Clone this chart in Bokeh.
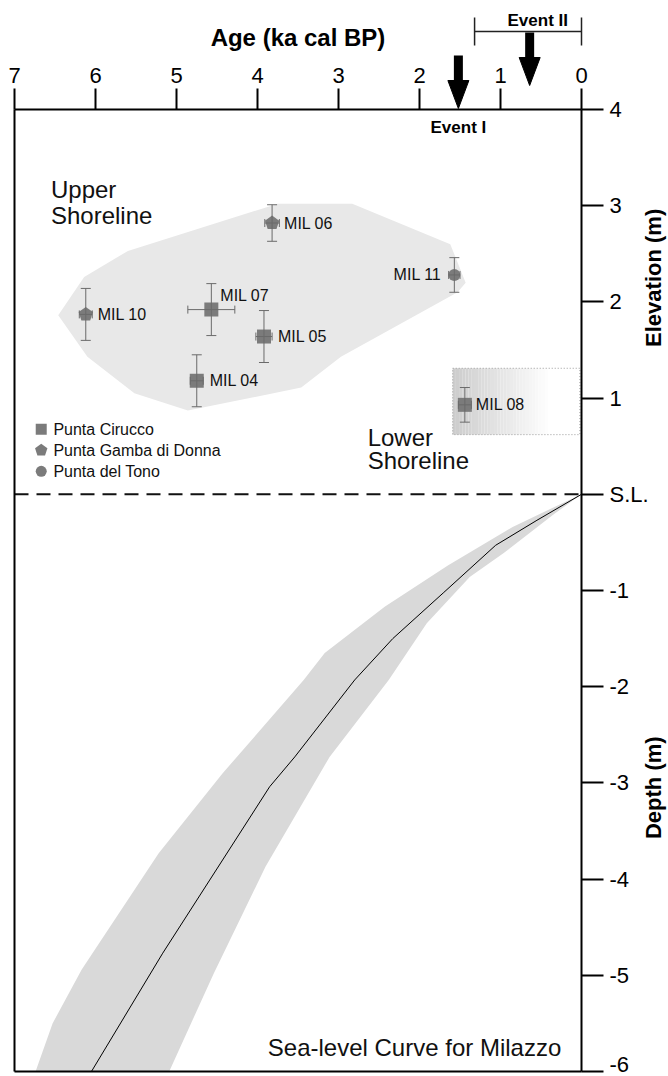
import numpy as np
from bokeh.plotting import figure
from bokeh.models import (Range1d, FixedTicker, ColumnDataSource, Whisker, TeeHead, LinearAxis)
from bokeh.core.properties import value
from bokeh.embed import file_html
from bokeh.resources import INLINE

# ---------------- data ----------------
sample_ids = ["MIL 04", "MIL 05", "MIL 06", "MIL 07", "MIL 08", "MIL 10", "MIL 11"]
sample_site = ["Punta Cirucco", "Punta Cirucco", "Punta Gamba di Donna", "Punta Cirucco",
               "Punta Cirucco", "Punta Gamba di Donna", "Punta del Tono"]
sample_age = [4.75, 3.92, 3.82, 4.57, 1.44, 6.12, 1.57]          # ka cal BP
sample_age_err = [0.08, 0.10, 0.09, 0.29, 0.08, 0.08, 0.07]
sample_elev = [1.18, 1.64, 2.82, 1.92, 0.93, 1.87, 2.28]          # m
sample_elev_err = [0.27, 0.27, 0.19, 0.27, 0.18, 0.27, 0.18]

site_names = ["Punta Cirucco", "Punta Gamba di Donna", "Punta del Tono"]

upper_shore_age = [6.46, 6.14, 5.60, 3.75, 2.83, 1.62, 1.43, 1.53, 2.97, 3.46, 4.86, 5.52, 6.10]
upper_shore_elev = [1.86, 2.26, 2.53, 3.02, 3.02, 2.60, 2.20, 2.10, 1.43, 1.11, 0.87, 1.05, 1.43]

lower_box_age = [1.59, 0.02]
lower_box_elev = [0.62, 1.31]

curve_age = [0.0, 0.55, 1.06, 1.70, 2.33, 2.80, 3.54, 3.85, 4.59, 5.17, 6.05]
curve_elev = [0.0, -0.27, -0.53, -1.02, -1.50, -1.93, -2.73, -3.04, -4.01, -4.77, -6.0]

band_upper_age = [0.0, 0.38, 0.85, 1.65, 2.43, 3.17, 3.43, 4.43, 5.22, 6.17, 6.53, 6.74]
band_upper_elev = [0.0, -0.15, -0.34, -0.74, -1.17, -1.65, -1.93, -2.90, -3.73, -4.94, -5.50, -6.0]
band_lower_age = [0.0, 0.33, 0.96, 1.38, 1.91, 2.38, 3.11, 3.90, 4.54, 5.09]
band_lower_elev = [0.0, -0.20, -0.61, -0.86, -1.34, -1.93, -2.73, -3.87, -4.98, -6.0]

age_ticks = [0, 1, 2, 3, 4, 5, 6, 7]
elev_ticks = [4, 3, 2, 1, 0, -1, -2, -3, -4, -5, -6]
elev_tick_labels = ["4", "3", "2", "1", "S.L.", "-1", "-2", "-3", "-4", "-5", "-6"]

event_names = ["Event I", "Event II"]
event_age = [1.52, 0.64]
event2_span = [1.32, 0.0]

# ---------------- layout / style ----------------
W, H = 668, 1076
FRAME_L, FRAME_R, FRAME_T, FRAME_B = 14, 581, 109, 1071   # pixel box of the age/elevation area
AGE_MAX, AGE_MIN = max(age_ticks), min(age_ticks)
EL_MAX, EL_MIN = max(elev_ticks), min(elev_ticks)
XS = (FRAME_R - FRAME_L) / (AGE_MAX - AGE_MIN)    # px per ka
YS = (FRAME_B - FRAME_T) / (EL_MAX - EL_MIN)      # px per m

FONT = "Liberation Sans"
MARK = "#7b7b7b"
ERR = "#6a6a6a"
TXT = "#111111"
label_dx = [13, 14, 12, 9, 11, 12, -13]
label_dy = [0, 0, 0, -14, 0, 0, 0]
label_align = ["left", "left", "left", "left", "left", "left", "right"]
marker_of_site = {"Punta Cirucco": "square", "Punta Gamba di Donna": "pentagon", "Punta del Tono": "circle"}

x_range = Range1d(AGE_MAX + FRAME_L / XS, AGE_MIN - (W - FRAME_R) / XS)
y_range = Range1d(EL_MIN - (H - FRAME_B) / YS, EL_MAX + FRAME_T / YS)

p = figure(width=W, height=H, x_range=x_range, y_range=y_range,
           x_axis_location=None, y_axis_location=None,
           output_backend="svg", toolbar_location=None,
           min_border_left=0, min_border_right=0, min_border_top=0, min_border_bottom=0)
p.grid.visible = False
p.outline_line_color = None
p.background_fill_color = "white"
p.border_fill_color = "white"

# top age axis at elevation 4
xa = LinearAxis(fixed_location=EL_MAX, bounds=(AGE_MIN, AGE_MAX))
xa.ticker = FixedTicker(ticks=age_ticks)
xa.major_tick_in = 0
xa.major_tick_out = 21
xa.minor_tick_in = 0
xa.minor_tick_out = 0
xa.axis_line_width = 2
xa.major_tick_line_width = 2
xa.major_label_standoff = 6
xa.major_label_text_font = FONT
xa.major_label_text_font_size = "22px"
xa.major_label_text_color = "black"
xa.axis_label = "Age (ka cal BP)"
xa.axis_label_text_font = FONT
xa.axis_label_text_font_style = "bold"
xa.axis_label_text_font_size = "24px"
xa.axis_label_text_color = "black"
xa.axis_label_standoff = 14
p.add_layout(xa, "above")

# right elevation axis at age 0
ya = LinearAxis(fixed_location=AGE_MIN, bounds=(EL_MIN, EL_MAX))
ya.ticker = FixedTicker(ticks=elev_ticks)
ya.major_label_overrides = {t: s for t, s in zip(elev_ticks, elev_tick_labels)}
ya.major_tick_in = 0
ya.major_tick_out = 22
ya.minor_tick_in = 0
ya.minor_tick_out = 0
ya.axis_line_width = 2
ya.major_tick_line_width = 2
ya.major_label_standoff = 6
ya.major_label_text_font = FONT
ya.major_label_text_font_size = "22px"
ya.major_label_text_color = "black"
p.add_layout(ya, "right")

# left and bottom frame lines
for loc, side, bnds in [(AGE_MAX, "left", (EL_MIN, EL_MAX)), (EL_MIN, "below", (AGE_MIN, AGE_MAX))]:
    ax = LinearAxis(fixed_location=loc, bounds=bnds, ticker=FixedTicker(ticks=[]))
    ax.axis_line_width = 2
    ax.major_tick_in = 0
    ax.major_tick_out = 0
    ax.minor_tick_in = 0
    ax.minor_tick_out = 0
    ax.major_label_text_font_size = "0px"
    p.add_layout(ax, side)

# upper shoreline envelope
p.patch(upper_shore_age, upper_shore_elev, fill_color="#e8e8e8", line_color=None)

# lower shoreline box with gradient (strips)
n_strips = 40
edges = np.linspace(lower_box_age[0], lower_box_age[1], n_strips + 1)
shades = []
for i in range(n_strips):
    t = min(1.0, i / (n_strips * 0.75))
    g = int(205 + (255 - 205) * t)
    shades.append("#%02x%02x%02x" % (g, g, g))
p.quad(left=edges[:-1], right=edges[1:], bottom=lower_box_elev[0], top=lower_box_elev[1],
       fill_color=shades, line_color=None)
p.quad(left=[lower_box_age[0]], right=[lower_box_age[1]], bottom=[lower_box_elev[0]],
       top=[lower_box_elev[1]], fill_alpha=0, line_color="#9a9a9a", line_dash="1 2", line_width=1)

# sea-level curve band and line
band_x = band_upper_age + band_lower_age[::-1]
band_y = band_upper_elev + band_lower_elev[::-1]
p.patch(band_x, band_y, fill_color="#d9d9d9", line_color=None)
p.line(curve_age, curve_elev, line_color="black", line_width=1)

# sea level (dashed)
p.line([AGE_MAX, AGE_MIN], [0, 0], line_color=TXT, line_width=2, line_dash="14 8")

# markers
src = ColumnDataSource(dict(x=sample_age, y=sample_elev, name=sample_ids, site=sample_site,
                            ylo=[y - e for y, e in zip(sample_elev, sample_elev_err)],
                            yhi=[y + e for y, e in zip(sample_elev, sample_elev_err)],
                            xlo=[x - e for x, e in zip(sample_age, sample_age_err)],
                            xhi=[x + e for x, e in zip(sample_age, sample_age_err)],
                            dx=label_dx, dy=label_dy, align=label_align))


def subset(site):
    idx = [i for i, s in enumerate(sample_site) if s == site]
    return ColumnDataSource(dict(x=[sample_age[i] for i in idx], y=[sample_elev[i] for i in idx]))


def draw_marker(source, kind, size):
    if kind == "pentagon":
        try:
            from bokeh.models import Ngon
            g = Ngon(x="x", y="y", radius=size / 2.0, radius_units="screen", n=5, angle=0,
                     fill_color=MARK, line_color=None)
            p.add_glyph(source, g)
            return
        except Exception:
            kind = "hex"
    p.scatter("x", "y", source=source, marker=kind, size=size, fill_color=MARK, line_color=None)


sizes = {"square": 14, "pentagon": 15, "circle": 12}
for site in site_names:
    kind = marker_of_site[site]
    draw_marker(subset(site), kind, sizes[kind])

p.add_layout(Whisker(source=src, base="x", lower="ylo", upper="yhi", dimension="height",
                     line_color=ERR, line_width=1, level="annotation",
                     upper_head=TeeHead(size=10, line_color=ERR, line_width=1),
                     lower_head=TeeHead(size=10, line_color=ERR, line_width=1)))
p.add_layout(Whisker(source=src, base="y", lower="xlo", upper="xhi", dimension="width",
                     line_color=ERR, line_width=1, level="annotation",
                     upper_head=TeeHead(size=8, line_color=ERR, line_width=1),
                     lower_head=TeeHead(size=8, line_color=ERR, line_width=1)))

p.text("x", "y", text="name", source=src, x_offset="dx", y_offset="dy", text_align="align",
       text_baseline="middle", text_font=value(FONT), text_font_size="16px", text_color=TXT)

# legend (manual)
leg_age_marker, leg_age_text = 6.67, 6.52
leg_elev = [0.675, 0.457, 0.239]
leg_sizes = {"square": 11, "pentagon": 13, "circle": 11}
for site, ly in zip(site_names, leg_elev):
    kind = marker_of_site[site]
    draw_marker(ColumnDataSource(dict(x=[leg_age_marker], y=[ly])), kind, leg_sizes[kind])
p.text(x=[leg_age_text] * 3, y=leg_elev, text=site_names, text_baseline="middle",
       text_font=value(FONT), text_font_size="16px", text_color=TXT)

# region texts
p.text(x=[6.55, 6.55], y=[3.164, 2.893], text=["Upper", "Shoreline"], text_baseline="alphabetic",
       text_font=value(FONT), text_font_size="24px", text_color=TXT)
p.text(x=[2.64, 2.64], y=[0.594, 0.354], text=["Lower", "Shoreline"], text_baseline="alphabetic",
       text_font=value(FONT), text_font_size="24px", text_color=TXT)
p.text(x=[0.25], y=[-5.75], text=["Sea-level Curve for Milazzo"], text_align="right",
       text_baseline="alphabetic", text_font=value(FONT), text_font_size="24px", text_color=TXT)

# side axis titles
side_x = AGE_MIN - 71.5 / XS
p.text(x=[side_x, side_x], y=[2.25, -3.05], text=["Elevation (m)", "Depth (m)"], angle=np.pi / 2,
       text_align="center", text_baseline="middle", text_font=value(FONT),
       text_font_style="bold", text_font_size="22px", text_color="black")

# events: arrows (shaft + head), bracket, labels
arrow_tip = [EL_MAX + 1 / YS, EL_MAX + 24 / YS]
arrow_tail = [EL_MAX + 54 / YS, EL_MAX + 77 / YS]
HEAD_LEN, HEAD_HALF = 28, 10.5
head_base = [t + HEAD_LEN / YS for t in arrow_tip]
p.segment(x0=event_age, y0=arrow_tail, x1=event_age, y1=[b - 1 / YS for b in head_base],
          line_color="black", line_width=9, line_cap="butt")
p.patches(xs=[[a - HEAD_HALF / XS, a + HEAD_HALF / XS, a] for a in event_age],
          ys=[[b, b, t] for b, t in zip(head_base, arrow_tip)],
          fill_color="black", line_color="black", line_width=1)
br_y = EL_MAX + 78 / YS
br_lo, br_hi = EL_MAX + 64 / YS, EL_MAX + 92 / YS
p.segment(x0=[event2_span[0], event2_span[0], event2_span[1]],
          y0=[br_y, br_lo, br_lo],
          x1=[event2_span[1], event2_span[0], event2_span[1]],
          y1=[br_y, br_hi, br_hi], line_color="#222222", line_width=1.5)
p.text(x=[event_age[0], 0.54], y=[EL_MAX - 18 / YS, EL_MAX + 89 / YS], text=event_names,
       text_align="center", text_baseline="middle", text_font=value(FONT),
       text_font_style="bold", text_font_size="17px", text_color="black")

open("out.html", "w").write(file_html(p, INLINE))
